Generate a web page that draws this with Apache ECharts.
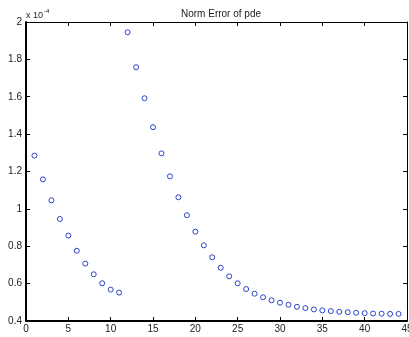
<!DOCTYPE html>
<html>
<head>
<meta charset="utf-8">
<script src="https://cdn.jsdelivr.net/npm/echarts@6/dist/echarts.min.js"></script>
<style>
  html, body { margin: 0; padding: 0; background: #fff; }
  #chart { width: 409px; height: 337px; }
</style>
</head>
<body>
<div id="chart"></div>
<script>
// Iteration index and the norm error (in units of 1e-4) at each iteration
const iterations = [1, 2, 3, 4, 5, 6, 7, 8, 9, 10, 11, 12, 13, 14, 15, 16, 17, 18, 19, 20, 21, 22,
  23, 24, 25, 26, 27, 28, 29, 30, 31, 32, 33, 34, 35, 36, 37, 38, 39, 40, 41, 42, 43, 44];
const normError = [1.285, 1.158, 1.046, 0.946, 0.857, 0.776, 0.707, 0.650, 0.602, 0.568, 0.552,
  1.945, 1.758, 1.592, 1.437, 1.297, 1.174, 1.062, 0.966, 0.878, 0.805, 0.741, 0.685, 0.639,
  0.602, 0.571, 0.546, 0.527, 0.511, 0.498, 0.487, 0.476, 0.469, 0.462, 0.457, 0.453, 0.449,
  0.447, 0.444, 0.442, 0.440, 0.439, 0.438, 0.438];

const titleText = 'Norm Error of pde';
const scaleBase = 'x 10';
const scaleExp = '-4';

const FONT = '"Liberation Sans", Arial, Helvetica, sans-serif';
const TXT = '#222';

const points = iterations.map((x, i) => [x, normError[i]]);

const chart = echarts.init(document.getElementById('chart'), null, { renderer: 'canvas' });

const tickLabel = { color: TXT, fontFamily: FONT, fontSize: 10 };

chart.setOption({
  animation: false,
  backgroundColor: '#fff',
  title: {
    text: titleText,
    left: 216, top: 4, textAlign: 'center',
    textStyle: { color: TXT, fontFamily: FONT, fontSize: 10, fontWeight: 'normal' }
  },
  grid: { left: 26, top: 22, right: 2, bottom: 16, containLabel: false, outerBoundsMode: 'none' },
  xAxis: [
    {
      type: 'value', min: 0, max: 45, interval: 5, position: 'bottom',
      axisLine: { show: true, onZero: false, lineStyle: { color: '#000', width: 2 } },
      axisTick: { show: true, inside: true, length: 4, lineStyle: { color: '#000', width: 1 } },
      axisLabel: Object.assign({ margin: 3 }, tickLabel),
      splitLine: { show: false }
    },
    {
      type: 'value', min: 0, max: 45, interval: 5, position: 'top',
      axisLine: { show: true, onZero: false, lineStyle: { color: '#000', width: 1 } },
      axisTick: { show: true, inside: true, length: 4, lineStyle: { color: '#000', width: 1 } },
      axisLabel: { show: false },
      splitLine: { show: false }
    }
  ],
  yAxis: [
    {
      type: 'value', min: 0.4, max: 2, interval: 0.2, position: 'left',
      axisLine: { show: true, onZero: false, lineStyle: { color: '#000', width: 2 } },
      axisTick: { show: true, inside: true, length: 4, lineStyle: { color: '#000', width: 1 } },
      axisLabel: Object.assign({
        margin: 4,
        formatter: v => String(Math.round(v * 10) / 10)
      }, tickLabel),
      splitLine: { show: false }
    },
    {
      type: 'value', min: 0.4, max: 2, interval: 0.2, position: 'right',
      axisLine: { show: true, onZero: false, lineStyle: { color: '#000', width: 1 } },
      axisTick: { show: true, inside: true, length: 4, lineStyle: { color: '#000', width: 1 } },
      axisLabel: { show: false },
      splitLine: { show: false }
    }
  ],
  graphic: [
    {
      type: 'text', left: 26, top: 8, silent: true,
      style: {
        text: '{b|' + scaleBase + '}{e|' + scaleExp + '}',
        rich: {
          b: { fontFamily: FONT, fontSize: 9, fill: TXT, verticalAlign: 'bottom', lineHeight: 12 },
          e: { fontFamily: FONT, fontSize: 6, fill: TXT, verticalAlign: 'top', lineHeight: 12, padding: [0, 0, 6, 1] }
        }
      }
    }
  ],
  series: [
    {
      type: 'scatter', xAxisIndex: 0, yAxisIndex: 0,
      data: points,
      // hollow circle markers: white fill with a thin blue ring
      symbol: 'circle', symbolSize: 5,
      itemStyle: { color: '#ffffff', borderColor: '#2a44cc', borderWidth: 1, opacity: 1 },
      clip: false
    }
  ]
});
</script>
</body>
</html>
